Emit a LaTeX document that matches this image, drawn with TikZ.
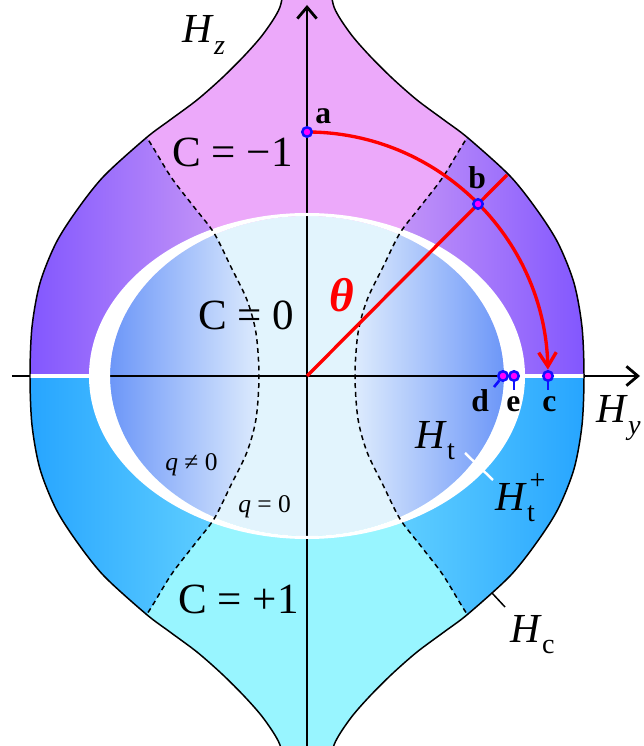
\documentclass[tikz,border=0pt]{standalone}
\usepackage{fontspec}
\setmainfont{Liberation Serif}
\usetikzlibrary{arrows.meta}
\definecolor{cmPink}{HTML}{ECA9FA}
\definecolor{cmCyan}{HTML}{98F5FF}
\definecolor{vioOut}{HTML}{7A4FFF}
\definecolor{vioIn}{HTML}{D2A2F6}
\definecolor{bluOut}{HTML}{20A0FF}
\definecolor{bluIn}{HTML}{6CD8FF}
\definecolor{ellLight}{HTML}{E2F4FD}
\definecolor{sideOut}{HTML}{6A95F8}
\definecolor{sideIn}{HTML}{DDEBFD}
\definecolor{pinBlue}{HTML}{1010FF}
\definecolor{pinFill}{HTML}{FF00FF}
\tikzset{
  axisline/.style={line width=1.6pt, black, -{Straight Barb[length=6.5pt, width=11pt]}},
  border/.style={line width=0.85pt, black},
  phaseline/.style={dash pattern=on 2.8pt off 2.2pt, line width=0.85pt},
  sweep/.style={line width=1.9pt, red},
  marker/.style={circle, draw=pinBlue, fill=pinFill, line width=1.4pt, inner sep=0pt, minimum size=5.4pt},
  stem/.style={line width=1.5pt, pinBlue},
  ptlabel/.style={font=\fontsize{18}{18}\selectfont\bfseries, inner sep=0pt, anchor=base west},
  reglabel/.style={font=\fontsize{24.5}{24.5}\selectfont, inner sep=0pt, anchor=base west},
  qlabel/.style={font=\fontsize{14.5}{14.5}\selectfont, inner sep=0pt, anchor=base west},
  fieldlabel/.style={font=\fontsize{23.5}{23.5}\selectfont, inner sep=0pt, anchor=base west}
}
\newcommand{\subsize}{\fontsize{16}{16}\selectfont}
\newcommand{\fieldH}[2]{\textit{H}\rlap{\kern1.5pt\raisebox{0.5em}{\subsize #2}}\raisebox{-0.28em}{\subsize #1}}
% outer H_c boundary and q = 0 lines
\def\outerpath{plot[smooth] coordinates {(22,400) (27,369) (43,343) (62,321) (85,298) (110,276) (137,256) (161,238) (203,200) (230,166) (251,133) (267,93) (275,49) (277,0) (275,-49) (267,-93) (251,-133) (230,-166) (203,-200) (161,-238) (137,-256) (110,-276) (85,-298) (62,-321) (43,-343) (27,-369) (22,-400)}
  -- plot[smooth] coordinates {(-22,-400) (-27,-369) (-43,-343) (-62,-321) (-85,-298) (-110,-276) (-137,-256) (-161,-238) (-203,-200) (-230,-166) (-251,-133) (-267,-93) (-275,-49) (-277,0) (-275,49) (-267,93) (-251,133) (-230,166) (-203,200) (-161,238) (-137,256) (-110,276) (-85,298) (-62,321) (-43,343) (-27,369) (-22,400)} -- cycle}
\def\dashRup{plot[smooth] coordinates {(48,0) (51,43) (60,76) (76,109) (93,143) (113,169) (136,199) (160,238) (185,270)}}
\def\dashRdn{plot[smooth] coordinates {(48,0) (51,-43) (60,-76) (76,-109) (93,-143) (113,-169) (136,-199) (160,-238) (185,-270)}}
\def\dashLup{plot[smooth] coordinates {(-48,0) (-51,43) (-60,76) (-76,109) (-93,143) (-113,169) (-136,199) (-160,238) (-185,270)}}
\def\dashLdn{plot[smooth] coordinates {(-48,0) (-51,-43) (-60,-76) (-76,-109) (-93,-143) (-113,-169) (-136,-199) (-160,-238) (-185,-270)}}
\def\dashR{plot[smooth] coordinates {(185,270) (160,238) (136,199) (113,169) (93,143) (76,109) (60,76) (51,43) (48,0) (51,-43) (60,-76) (76,-109) (93,-143) (113,-169) (136,-199) (160,-238) (185,-270)}}
\def\dashL{plot[smooth] coordinates {(-185,270) (-160,238) (-136,199) (-113,169) (-93,143) (-76,109) (-60,76) (-51,43) (-48,0) (-51,-43) (-60,-76) (-76,-109) (-93,-143) (-113,-169) (-136,-199) (-160,-238) (-185,-270)}}
\begin{document}
\begin{tikzpicture}[x=0.02cm, y=0.02cm]
  \useasboundingbox (-307,-370) rectangle (336,376);
  \clip (-307,-370) rectangle (336,376);
  % phase regions
  \begin{scope}
    \clip \outerpath;
    \fill[cmPink] (-300,0) rectangle (300,420);
    \fill[cmCyan] (-300,0) rectangle (300,-420);
    \shade[left color=vioIn, right color=vioOut] \dashRup -- (185,420) -- (300,420) -- (300,0) -- cycle;
    \shade[left color=bluIn, right color=bluOut] \dashRdn -- (185,-420) -- (300,-420) -- (300,0) -- cycle;
    \shade[left color=vioOut, right color=vioIn] \dashLup -- (-185,420) -- (-300,420) -- (-300,0) -- cycle;
    \shade[left color=bluOut, right color=bluIn] \dashLdn -- (-185,-420) -- (-300,-420) -- (-300,0) -- cycle;
  \end{scope}
  \fill[ellLight] (0,0) ellipse[x radius=197, y radius=160];
  \begin{scope}
    \clip (0,0) ellipse[x radius=197, y radius=160];
    \shade[left color=sideIn, right color=sideOut] \dashR -- (200,-270) -- (200,270) -- cycle;
    \shade[left color=sideOut, right color=sideIn] \dashL -- (-200,-270) -- (-200,270) -- cycle;
  \end{scope}
  % axes
  \coordinate (O) at (0,0);
  \coordinate (hyL) at (-295,0);
  \coordinate (hyR) at (333,0);
  \coordinate (hzB) at (0,-390);
  \coordinate (hzT) at (0,371);
  \draw[axisline] (hyL) -- (hyR);
  \draw[axisline] (hzB) -- (hzT);
  \fill[white, even odd rule] (0,0) ellipse[x radius=218, y radius=163] (0,0) ellipse[x radius=197, y radius=160];
  \begin{scope}
    \clip \outerpath;
    \draw[white, line width=2pt] (-280,0) -- (-217,0);
    \draw[white, line width=2pt] (217,0) -- (280,0);
    \draw[phaseline] \dashR;
    \draw[phaseline] \dashL;
  \end{scope}
  \draw[border] \outerpath;
  % field sweep
  \coordinate (pa) at (0,244);
  \coordinate (pb) at (171,172);
  \coordinate (pc) at (241,0);
  \coordinate (pd) at (196,0);
  \coordinate (pe) at (207,0);
  \coordinate (bEnd) at (200,201);
  \draw[sweep] (O) -- (bEnd);
  \draw[sweep, -{Straight Barb[length=8pt, width=10pt]}] (pa) arc[start angle=90, end angle=1.5, x radius=241, y radius=244];
  \coordinate (dT) at (187,-11);
  \coordinate (eT) at (207,-14);
  \coordinate (cT) at (241,-14);
  \node[marker] (a) at (pa) {};
  \node[marker] (b) at (pb) {};
  \node[marker] (c) at (pc) {};
  \node[marker] (d) at (pd) {};
  \node[marker] (e) at (pe) {};
  \draw[stem] (dT) -- (d);
  \draw[stem] (eT) -- (e);
  \draw[stem] (cT) -- (c);
  % ticks
  \coordinate (ht1) at (158,-77);
  \coordinate (ht2) at (186,-104);
  \coordinate (hc1) at (185,-217);
  \coordinate (hc2) at (198,-231);
  \draw[white, line width=1.4pt] (ht1) -- (ht2);
  \draw[border] (hc1) -- (hc2);
  % labels
  \node[ptlabel] (la) at (8,252) {a};
  \node[ptlabel] (lb) at (161,187) {b};
  \node[ptlabel] (lc) at (235,-36) {c};
  \node[ptlabel] (ld) at (164,-36) {d};
  \node[ptlabel] (le) at (199,-36) {e};
  \node[fieldlabel, font=\fontsize{27}{27}\selectfont\bfseries\itshape, text=red] (ltheta) at (22,64) {θ};
  \node[fieldlabel] (lhz) at (-125,333) {\fieldH{\textit{z}}{}};
  \node[fieldlabel] (lhy) at (289,-47) {\fieldH{\textit{y}}{}};
  \node[fieldlabel] (lht) at (108,-72) {\fieldH{t}{}};
  \node[fieldlabel] (lhtp) at (188,-134) {\fieldH{t}{+}};
  \node[fieldlabel] (lhc) at (203,-266) {\fieldH{c}{}};
  \node[reglabel] (lcm) at (-135,209) {C = −1};
  \node[reglabel] (lcz) at (-109,46) {C = 0};
  \node[reglabel] (lcp) at (-129,-237) {C = +1};
  \node[qlabel] (lqn) at (-142,-94) {\textit{q} ≠ 0};
  \node[qlabel] (lqz) at (-69,-136) {\textit{q} = 0};
\end{tikzpicture}
\end{document}
